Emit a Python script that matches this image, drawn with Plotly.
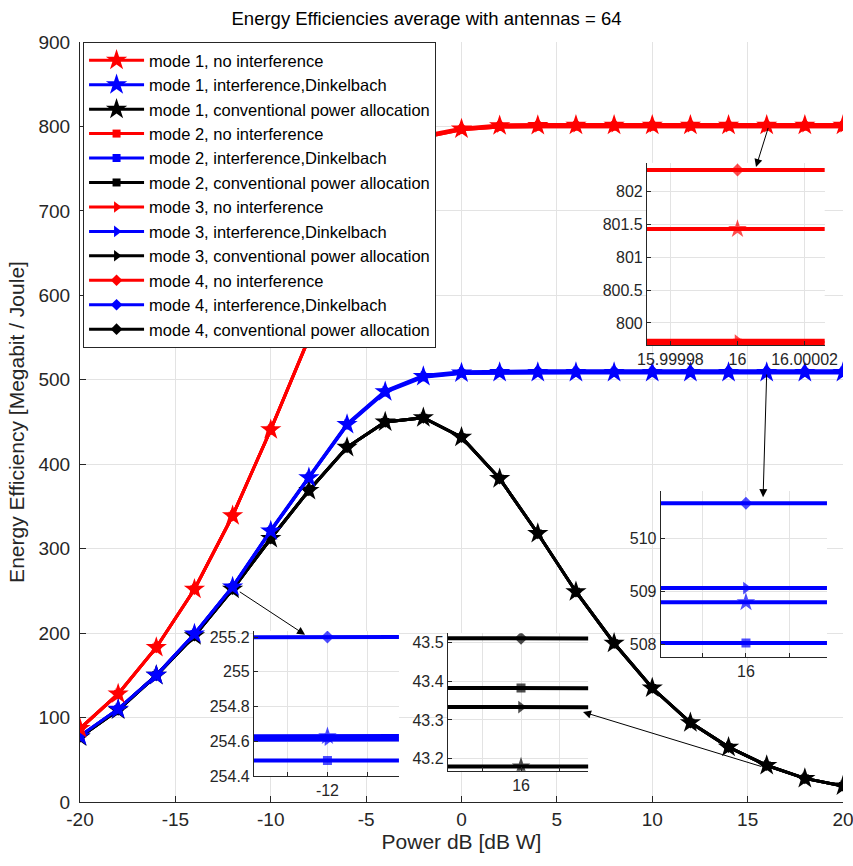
import numpy as np
import plotly.graph_objects as go

# ---------------- data ----------------
power_db = [-20, -18, -16, -14, -12, -10, -8, -6, -4, -2, 0, 2, 4, 6, 8, 10, 12, 14, 16, 18, 20]

# no interference (red)
m1_noint = [87, 128, 183, 252, 339, 441, 549, 660, 745, 788, 797, 800.9, 801.3, 801.4, 801.4, 801.4, 801.43, 801.43, 801.43, 801.43, 801.43]
m2_noint = [87, 128, 183, 252, 339, 441, 549, 660, 745, 787, 796, 799.4, 799.6, 799.7, 799.69, 799.69, 799.69, 799.69, 799.69, 799.69, 799.69]
m3_noint = [87, 128, 183, 252, 339, 441, 549, 660, 745, 787, 796, 799.4, 799.6, 799.7, 799.73, 799.73, 799.73, 799.73, 799.73, 799.73, 799.73]
m4_noint = [87, 128, 183, 252, 339, 441, 550, 661, 746, 789, 798, 801.8, 802.2, 802.3, 802.33, 802.33, 802.33, 802.33, 802.33, 802.33, 802.33]

# interference, Dinkelbach (blue)
m1_dink = [78, 110, 150, 199, 254.63, 321, 384, 447, 486, 504, 508, 508.6, 508.7, 508.75, 508.78, 508.79, 508.79, 508.79, 508.79, 508.79, 508.79]
m2_dink = [78, 110, 150, 199, 254.49, 321, 384, 446, 485, 503, 507.5, 507.9, 508.0, 508.02, 508.02, 508.02, 508.02, 508.02, 508.02, 508.02, 508.02]
m3_dink = [78, 110, 150, 199, 254.61, 321, 384, 447, 486, 504, 508.3, 508.9, 509.0, 509.05, 509.06, 509.06, 509.06, 509.06, 509.06, 509.06, 509.06]
m4_dink = [78, 110, 150, 199, 255.20, 322, 385, 448, 487, 505, 509.5, 510.4, 510.6, 510.65, 510.66, 510.66, 510.66, 510.66, 510.66, 510.66, 510.66]

# conventional power allocation (black)
m1_conv = [77, 109, 150, 197, 252, 312, 369, 420, 450, 455, 432, 383, 318, 249, 188, 135, 94, 65, 43.18, 28, 19]
m2_conv = [77, 109, 150, 197, 252, 312, 369, 420, 450, 455, 432, 383, 318, 249, 188, 135, 94, 65, 43.382, 28, 19]
m3_conv = [77, 109, 150, 197, 252, 312, 369, 420, 450, 455, 432, 383, 318, 249, 188, 135, 94, 65, 43.333, 28, 19]
m4_conv = [77, 109, 150, 197, 252, 312, 369, 420, 450, 455, 432, 383, 318, 249, 188, 135, 94, 65, 43.51, 28, 19]

legend_names = [
    "mode 1, no interference", "mode 1, interference,Dinkelbach", "mode 1, conventional power allocation",
    "mode 2, no interference", "mode 2, interference,Dinkelbach", "mode 2, conventional power allocation",
    "mode 3, no interference", "mode 3, interference,Dinkelbach", "mode 3, conventional power allocation",
    "mode 4, no interference", "mode 4, interference,Dinkelbach", "mode 4, conventional power allocation",
]
series_values = [m1_noint, m1_dink, m1_conv, m2_noint, m2_dink, m2_conv,
                 m3_noint, m3_dink, m3_conv, m4_noint, m4_dink, m4_conv]

x_ticks = [-20, -15, -10, -5, 0, 5, 10, 15, 20]
x_ticktext = ["-20", "-15", "-10", "-5", "0", "5", "10", "15", "20"]
y_ticks = [0, 100, 200, 300, 400, 500, 600, 700, 800, 900]

title_text = "Energy Efficiencies average with antennas = 64"
x_title = "Power dB [dB W]"
y_title = "Energy Efficiency [Megabit / Joule]"

# ---------------- styles ----------------
colors = ["#ff0000", "#0000ff", "#000000"]
symbols = ["star", "square", "triangle-right", "diamond"]
msizes_main = [16, 8, 10, 9]
msizes_inset = [14, 9, 11, 10]
FONT = "Liberation Sans, Arial, Helvetica, sans-serif"
AX = "#262626"

fig = go.Figure()

d = 1e-5
insets = [
    ("2", [0.743, 0.976], [0.601, 0.841], [15.999973, 16.000026], [799.66, 802.44],
     ([15.99998, 16, 16.00002], ["15.99998", "16", "16.00002"]),
     ([800, 800.5, 801, 801.5, 802], ["800", "800.5", "801", "801.5", "802"])),
    ("3", [0.761, 0.979], [0.191, 0.409], [16 - 1.98 * d, 16 + 1.88 * d], [507.76, 510.89],
     ([16 - d, 16, 16 + d], ["", "16", ""]),
     ([508, 509, 510], ["508", "509", "510"])),
    ("4", [0.228, 0.418], [0.034, 0.225], [-12 - 1.85 * d, -12 + 1.8 * d], [254.4, 255.235],
     ([-12 - d, -12, -12 + d], ["", "-12", ""]),
     ([254.4, 254.6, 254.8, 255, 255.2], ["254.4", "254.6", "254.8", "255", "255.2"])),
    ("5", [0.482, 0.666], [0.041, 0.222], [16 - 1.92 * d, 16 + 1.76 * d], [43.169, 43.523],
     ([16 - d, 16, 16 + d], ["", "16", ""]),
     ([43.2, 43.3, 43.4, 43.5], ["43.2", "43.3", "43.4", "43.5"])),
]

# draw mode 4 first so mode 1 (stars) ends on top; legendrank keeps the legend order
order = list(range(12))[::-1]
for i in order:
    mode = i // 3
    kind = i % 3
    fig.add_trace(go.Scatter(
        x=power_db, y=series_values[i], name=legend_names[i],
        mode="lines+markers",
        line=dict(color=colors[kind], width=3),
        marker=dict(symbol=symbols[mode], size=msizes_main[mode], color=colors[kind],
                    line=dict(width=0)),
        legendrank=i + 1, xaxis="x", yaxis="y",
    ))

# zoomed insets: the same polyline, clipped to the inset's x window
xs_arr = np.array(power_db, dtype=float)
for suf, xd, yd, xr, yr, xt, yt in insets:
    lo, hi = xr[0] - 0.02 * (xr[1] - xr[0]), xr[1] + 0.02 * (xr[1] - xr[0])
    for i in order:
        mode = i // 3
        kind = i % 3
        ys_arr = np.array(series_values[i], dtype=float)
        inside = (xs_arr > lo) & (xs_arr < hi)
        px = [lo] + list(xs_arr[inside]) + [hi]
        py = [float(np.interp(lo, xs_arr, ys_arr))] + list(ys_arr[inside]) + [float(np.interp(hi, xs_arr, ys_arr))]
        sizes = [0] + [msizes_inset[mode]] * int(inside.sum()) + [0]
        fig.add_trace(go.Scatter(
            x=px, y=py, mode="lines+markers", showlegend=False,
            line=dict(color=colors[kind], width=4),
            marker=dict(symbol=symbols[mode], size=sizes, color=colors[kind], line=dict(width=0)),
            xaxis="x" + suf, yaxis="y" + suf, hoverinfo="skip",
        ))

axis_common = dict(
    showline=True, linecolor=AX, linewidth=1, ticks="inside", ticklen=6,
    tickcolor=AX, showgrid=True, gridcolor="#e3e3e3", gridwidth=1,
    zeroline=False, automargin=False, tickfont=dict(family=FONT, size=19, color=AX),
)

layout = dict(
    template="none",
    width=853, height=866,
    margin=dict(l=80, r=10, t=42, b=64),
    paper_bgcolor="white", plot_bgcolor="white",
    title=dict(text=title_text, x=0.5, xanchor="center", xref="container",
               y=0.979, yref="container", yanchor="middle",
               font=dict(family=FONT, size=18.5, color="#000000")),
    xaxis=dict(range=[-20, 20], tickvals=x_ticks, ticktext=x_ticktext, ticklabeloverflow="allow",
               title=dict(text=x_title, font=dict(family=FONT, size=21, color=AX), standoff=4),
               domain=[0, 1], anchor="y", **axis_common),
    yaxis=dict(range=[0, 900], tickvals=y_ticks, ticklabelstandoff=5,
               title=dict(text=y_title, font=dict(family=FONT, size=21, color=AX), standoff=8),
               domain=[0, 1], anchor="x", **axis_common),
    legend=dict(x=0.004, y=1.0, xanchor="left", yanchor="top",
                bgcolor="white", bordercolor=AX, borderwidth=1,
                font=dict(family=FONT, size=16.5, color="#000000"),
                itemwidth=55, tracegroupgap=0, traceorder="normal"),
    showlegend=True,
)

inset_axis = dict(
    showline=True, linecolor=AX, linewidth=1, ticks="inside", ticklen=4,
    tickcolor=AX, showgrid=True, gridcolor="#e3e3e3", gridwidth=1,
    zeroline=False, automargin=False, tickfont=dict(family=FONT, size=16, color=AX),
)
shapes = []
for suf, xd, yd, xr, yr, xt, yt in insets:
    layout["xaxis" + suf] = dict(domain=xd, range=xr, tickvals=xt[0], ticktext=xt[1],
                                 anchor="y" + suf, **inset_axis)
    layout["yaxis" + suf] = dict(domain=yd, range=yr, tickvals=yt[0], ticktext=yt[1],
                                 anchor="x" + suf, **inset_axis)
    shapes.append(dict(type="rect", xref="x" + suf + " domain", yref="y" + suf + " domain",
                       x0=0, x1=1, y0=0, y1=1, fillcolor="white", line=dict(width=0),
                       layer="below"))
layout["shapes"] = shapes

arrow = dict(showarrow=True, arrowhead=2, arrowsize=1.6, arrowwidth=1, arrowcolor="#000000",
             xref="x", yref="y", axref="x", ayref="y", text="")
layout["annotations"] = [
    dict(x=15.44, y=752, ax=16.1, ay=800, **arrow),
    dict(x=15.81, y=361, ax=16.0, ay=508, **arrow),
    dict(x=-8.2, y=198, ax=-11.7, ay=250, **arrow),
    dict(x=6.37, y=106.6, ax=15.8, ay=41.5, **arrow),
]

fig.update_layout(**layout)
fig.write_html("out.html",
               config={"displayModeBar": False},
               post_script="document.body.style.margin='0';document.body.style.overflow='hidden';")
